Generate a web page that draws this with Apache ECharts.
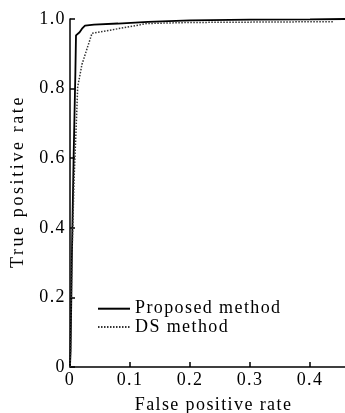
<!DOCTYPE html>
<html>
<head>
<meta charset="utf-8">
<script src="https://cdn.jsdelivr.net/npm/echarts@6/dist/echarts.min.js"></script>
<style>
html,body{margin:0;padding:0;background:#fff;}
#chart{width:345px;height:413px;}
</style>
</head>
<body>
<div id="chart"></div>
<script>
var proposedX = [0, 0.001, 0.003, 0.006, 0.009, 0.010, 0.012, 0.016, 0.020, 0.025, 0.040, 0.080, 0.130, 0.200, 0.300, 0.400, 0.460];
var proposedY = [0, 0.05, 0.30, 0.60, 0.85, 0.953, 0.957, 0.962, 0.972, 0.981, 0.984, 0.987, 0.992, 0.996, 0.998, 0.999, 1.000];
var dsX = [0, 0.001, 0.003, 0.007, 0.011, 0.0128, 0.020, 0.0367, 0.060, 0.100, 0.128, 0.200, 0.300, 0.400, 0.440];
var dsY = [0, 0.05, 0.30, 0.55, 0.72, 0.805, 0.870, 0.959, 0.966, 0.978, 0.987, 0.990, 0.991, 0.992, 0.992];
var xTicks = [0, 0.1, 0.2, 0.3, 0.4];
var yTicks = [0, 0.2, 0.4, 0.6, 0.8, 1.0];
var seriesNames = ['Proposed method', 'DS method'];
var xTitle = 'False positive rate';
var yTitle = 'True positive rate';

function pairs(xs, ys){ return xs.map(function(x,i){ return [x, ys[i]]; }); }

// letter spacing for the wide-set serif text of the original figure
(function(){
  var proto = CanvasRenderingContext2D.prototype;
  var oFill = proto.fillText, oMeasure = proto.measureText;
  function sp(t){ return t === yTitle ? '2.6px' : '1.4px'; }
  proto.fillText = function(t){ this.letterSpacing = sp(t); return oFill.apply(this, arguments); };
  proto.measureText = function(t){ this.letterSpacing = sp(t); return oMeasure.apply(this, arguments); };
})();

var font = 'Liberation Serif';
var fs = 18;
var chart = echarts.init(document.getElementById('chart'), null, {renderer:'canvas'});
chart.setOption({
  animation:false,
  backgroundColor:'#fff',
  grid:{left:70, right:0, top:19, bottom:46, containLabel:false, outerBoundsMode:'none'},
  legend:{
    orient:'vertical', left:92, top:294, itemWidth:32, itemHeight:16, itemGap:-1,
    data:seriesNames,
    textStyle:{fontFamily:font, fontSize:fs, color:'#000', lineHeight:16},
    itemStyle:{opacity:0},
    lineStyle:{type:'inherit'}
  },
  xAxis:{
    type:'value', min:0, max:0.4583, interval:0.1,
    name:xTitle, nameLocation:'middle', nameGap:28,
    nameTextStyle:{fontFamily:font, fontSize:fs, color:'#000', padding:[0,0,0,12]},
    axisLine:{show:true, lineStyle:{color:'#000', width:1.5}},
    axisTick:{show:true, inside:true, length:5, lineStyle:{color:'#000', width:1.5}},
    axisLabel:{fontFamily:font, fontSize:fs, color:'#000', margin:4, showMaxLabel:false,
      formatter:function(v){ var i = xTicks.indexOf(Math.round(v*10)/10); return i>=0 ? (v===0?'0':v.toFixed(1)) : ''; }},
    splitLine:{show:false}
  },
  yAxis:{
    type:'value', min:0, max:1, interval:0.2,
    name:yTitle, nameLocation:'middle', nameGap:42,
    nameTextStyle:{fontFamily:font, fontSize:fs, color:'#000', padding:[0,0,0,23]},
    axisLine:{show:true, lineStyle:{color:'#000', width:1.5}},
    axisTick:{show:true, inside:true, length:5, lineStyle:{color:'#000', width:1.5}},
    axisLabel:{fontFamily:font, fontSize:fs, color:'#000', margin:4,
      formatter:function(v){ return v===0?'0':v.toFixed(1); }},
    splitLine:{show:false}
  },
  series:[
    {name:seriesNames[0], type:'line', data:pairs(proposedX, proposedY), symbol:'none', smooth:false,
     lineStyle:{color:'#000', width:1.8, type:'solid'}, itemStyle:{color:'#000'}},
    {name:seriesNames[1], type:'line', data:pairs(dsX, dsY), symbol:'none', smooth:false,
     lineStyle:{color:'#333', width:1.5, type:[1.5,1.5]}, itemStyle:{color:'#333'}}
  ]
});
</script>
</body>
</html>
